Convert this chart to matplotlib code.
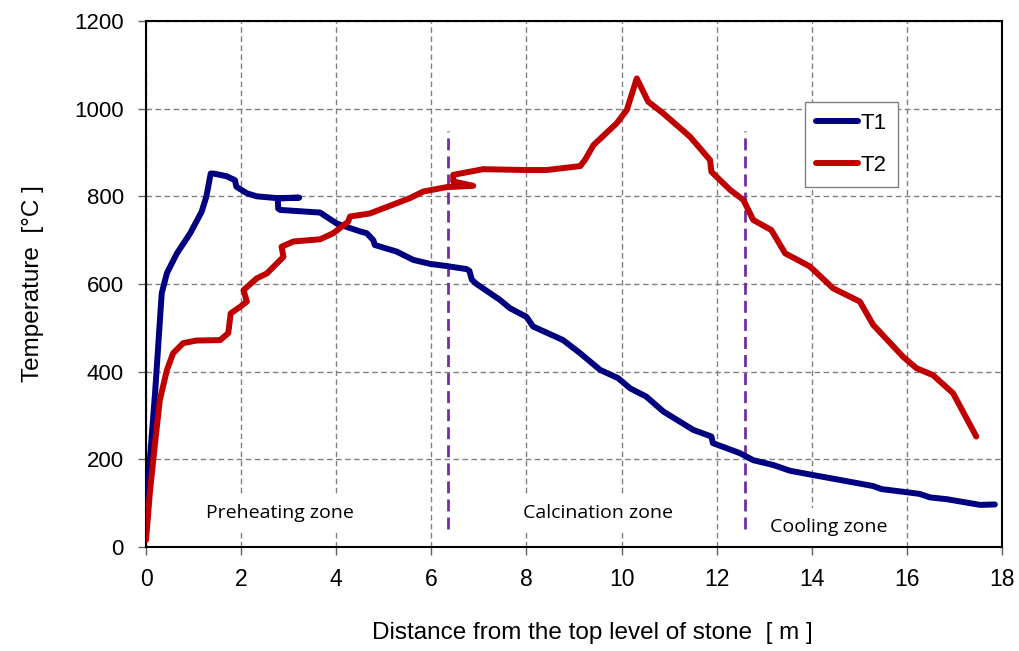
import matplotlib
matplotlib.use("Agg")
import matplotlib.pyplot as plt

# distance along the kiln [m] and temperatures [C]
t1_x = [0.0, 0.08, 0.19, 0.33, 0.44, 0.65, 0.93, 1.17, 1.27, 1.36, 1.42, 1.69, 1.87, 1.90,
        2.12, 2.33, 2.75, 3.22, 2.77, 2.78, 2.82, 3.66, 4.01, 4.50, 4.64, 4.78, 4.81, 5.27,
        5.62, 5.97, 6.32, 6.74, 6.80, 6.85, 6.95, 7.44, 7.65, 8.00, 8.14, 8.77, 9.13, 9.55,
        9.93, 10.18, 10.52, 10.88, 11.51, 11.89, 11.92, 12.49, 12.77, 13.19, 13.54,
        14.03, 14.59, 15.29, 15.47, 15.99, 16.27, 16.49, 16.84, 17.54, 17.85]
t1_y = [39, 198, 351, 579, 625, 670, 716, 765, 800, 852, 852, 846, 837, 822,
        807, 800, 796, 797, 795, 772, 769, 763, 738, 720, 716, 700, 689, 674,
        655, 646, 641, 634, 630, 610, 600, 564, 545, 525, 503, 472, 442, 404,
        385, 362, 343, 309, 267, 252, 237, 214, 198, 187, 174,
        164, 153, 139, 132, 125, 121, 113, 109, 96, 97]

t2_x = [0.0, 0.08, 0.19, 0.29, 0.44, 0.57, 0.78, 1.06, 1.56, 1.73, 1.78, 1.98, 2.12, 2.05,
        2.33, 2.54, 2.89, 2.85, 3.10, 3.66, 3.94, 4.25, 4.29, 4.71, 5.55, 5.83, 6.32, 6.88,
        6.46, 6.46, 7.09, 8.0, 8.42, 9.13, 9.23, 9.41, 9.90, 10.11, 10.32, 10.56, 10.88,
        11.44, 11.86, 11.89, 12.28, 12.56, 12.77, 13.15, 13.44, 13.96, 14.45, 15.01, 15.29,
        15.92, 16.20, 16.55, 16.97, 17.46]
t2_y = [16, 123, 237, 335, 404, 442, 465, 471, 472, 488, 533, 548, 560, 586,
        613, 624, 662, 685, 697, 702, 716, 742, 754, 761, 796, 811, 821, 824,
        834, 849, 862, 860, 860, 869, 883, 917, 967, 997, 1069, 1016, 989,
        936, 883, 856, 815, 792, 746, 723, 670, 640, 590, 560, 507,
        434, 408, 392, 351, 252]

# zone boundaries and labels
zone_edges = [6.35, 12.6]
zone_names = ["Preheating zone", "Calcination zone", "Cooling zone"]
zone_pos = [(2.82, 78), (9.50, 78), (14.36, 46)]

plt.rcParams["font.family"] = ["Liberation Sans", "DejaVu Sans"]

fig = plt.figure(figsize=(10.19, 6.51), dpi=100)
ax = fig.add_axes([0.1433, 0.1598, 0.8400, 0.8079])

ax.plot(t1_x, t1_y, color="#000080", lw=4.3, solid_capstyle="round", solid_joinstyle="round", label="T1", zorder=4)
ax.plot(t2_x, t2_y, color="#C00000", lw=4.3, solid_capstyle="round", solid_joinstyle="round", label="T2", zorder=4)

for xe in zone_edges:
    ax.plot([xe, xe], [40, 950], color="#7030A0", lw=2, dashes=(4.3, 2.2), zorder=3)

for name, (zx, zy) in zip(zone_names, zone_pos):
    ax.text(zx, zy, name, ha="center", va="center", fontsize=14, family=["Open Sans", "DejaVu Sans"],
            bbox=dict(boxstyle="square,pad=0.5", fc="white", ec="none"), zorder=2)

ax.set_xlim(0, 18)
ax.set_ylim(0, 1200)
ax.set_xticks(range(0, 19, 2))
ax.set_yticks(range(0, 1201, 200))
ax.grid(True, color="#808080", linestyle=(0, (4, 2.5)), lw=1, zorder=1)
ax.set_axisbelow(True)
for s in ax.spines.values():
    s.set_linewidth(1.5)
ax.tick_params(direction="out", length=6, width=1, color="#606060")
ax.tick_params(axis="y", labelsize=16, pad=10)
ax.tick_params(axis="x", labelsize=16.5, pad=9)

ax.set_xlabel("Distance from the top level of stone  [ m ]", fontsize=17.5)
ax.xaxis.set_label_coords(0.522, -0.143)
ax.set_ylabel("Temperature  [°C ]", fontsize=17.5, labelpad=22)

leg = ax.legend(loc="upper left", bbox_to_anchor=(0.770, 0.846), borderaxespad=0, fontsize=16,
                handlelength=1.9, handletextpad=0.1, labelspacing=0.95, borderpad=0.5,
                fancybox=False, framealpha=1, edgecolor="#808080")
leg.get_frame().set_linewidth(1)

fig.savefig("out.png", dpi=100)
